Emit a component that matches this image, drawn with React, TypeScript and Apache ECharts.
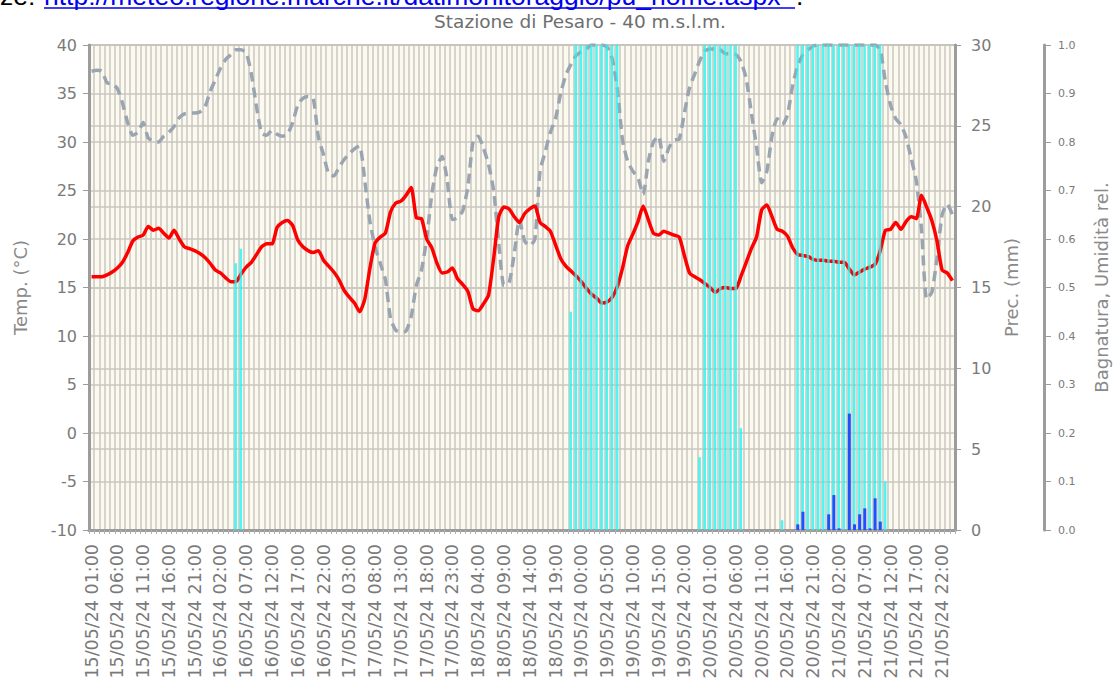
import React, { useEffect, useRef } from "react";
import * as echarts from "echarts";

// Hourly categories 15/05/24 01:00 .. 22/05/24 00:00
const categories: string[] = [];
for (let i = 0; i < 168; i++) {
  const h = i + 1;
  const d = 15 + Math.floor(h / 24);
  const hh = h % 24;
  categories.push(`${d}/05/24 ${String(hh).padStart(2, "0")}:00`);
}

const temperature = [
  16.1, 16.1, 16.1, 16.3, 16.6, 17.0, 17.6, 18.6, 19.8, 20.2,
  20.4, 21.3, 20.9, 21.1, 20.6, 20.1, 20.9, 20.0, 19.2, 19.0,
  18.8, 18.5, 18.1, 17.5, 16.8, 16.5, 16.0, 15.6, 15.6, 16.4,
  17.1, 17.6, 18.4, 19.2, 19.5, 19.5, 21.2, 21.7, 21.9, 21.4,
  19.9, 19.2, 18.8, 18.6, 18.8, 17.8, 17.2, 16.6, 15.8, 14.7,
  14.0, 13.4, 12.5, 13.8, 17.0, 19.6, 20.2, 20.6, 22.8, 23.7,
  23.9, 24.5, 25.3, 22.2, 22.1, 20.0, 19.1, 17.5, 16.5, 16.6,
  17.0, 15.9, 15.3, 14.6, 12.8, 12.6, 13.3, 14.2, 18.0, 22.3,
  23.3, 23.1, 22.3, 21.7, 22.6, 23.1, 23.4, 21.7, 21.3, 20.8,
  19.4, 18.0, 17.2, 16.7, 16.2, 15.6, 14.9, 14.3, 13.9, 13.4,
  13.5, 14.0, 15.1, 17.0, 19.3, 20.5, 21.8, 23.4, 22.0, 20.6,
  20.4, 20.8, 20.6, 20.4, 20.2, 18.3, 16.5, 16.1, 15.8, 15.4,
  15.0, 14.5, 14.9, 15.0, 14.9, 14.9, 16.2, 17.6, 19.0, 20.2,
  23.0, 23.5, 22.3, 21.0, 20.8, 20.3, 19.1, 18.4, 18.3, 18.2,
  17.9, 17.8, 17.8, 17.7, 17.7, 17.6, 17.6, 16.9, 16.3, 16.6,
  16.9, 17.1, 17.4, 18.8, 20.9, 21.0, 21.7, 21.0, 21.8, 22.3,
  22.1, 24.5, 23.3, 21.9, 19.8, 16.8, 16.5, 15.7,
];

const humidity = [
  0.946, 0.948, 0.946, 0.922, 0.92, 0.91, 0.88, 0.84, 0.814, 0.82,
  0.84, 0.808, 0.802, 0.8, 0.812, 0.82, 0.832, 0.85, 0.858, 0.86,
  0.86, 0.862, 0.872, 0.904, 0.928, 0.952, 0.97, 0.98, 0.99, 0.99,
  0.984, 0.94, 0.872, 0.818, 0.814, 0.824, 0.816, 0.812, 0.816, 0.84,
  0.876, 0.89, 0.894, 0.89, 0.81, 0.774, 0.734, 0.73, 0.748, 0.764,
  0.776, 0.786, 0.792, 0.72, 0.636, 0.584, 0.55, 0.516, 0.436, 0.412,
  0.408, 0.41, 0.44, 0.504, 0.536, 0.6, 0.692, 0.75, 0.77, 0.72,
  0.64, 0.644, 0.658, 0.708, 0.8, 0.812, 0.788, 0.754, 0.7, 0.59,
  0.504, 0.51, 0.57, 0.64, 0.596, 0.586, 0.6, 0.74, 0.78, 0.82,
  0.848, 0.9, 0.938, 0.96, 0.978, 0.986, 0.992, 1.0, 1.0, 1.0,
  0.996, 0.972, 0.91, 0.804, 0.76, 0.74, 0.726, 0.692, 0.76, 0.8,
  0.812, 0.76, 0.788, 0.804, 0.806, 0.86, 0.912, 0.94, 0.968, 0.988,
  0.992, 0.992, 0.99, 0.982, 0.982, 0.98, 0.966, 0.93, 0.86, 0.79,
  0.716, 0.74, 0.812, 0.848, 0.836, 0.856, 0.916, 0.958, 0.98, 0.99,
  0.998, 1.0, 1.0, 1.0, 1.0, 1.0, 1.0, 1.0, 1.0, 1.0,
  1.0, 1.0, 1.0, 0.99, 0.924, 0.876, 0.848, 0.836, 0.81, 0.766,
  0.72, 0.62, 0.476, 0.49, 0.56, 0.65, 0.672, 0.65,
];

const wetness: [string, number][] = [
  ["16/05/24 05:00", 0.55], ["16/05/24 06:00", 0.58],
  ["18/05/24 22:00", 0.45], ["18/05/24 23:00", 1],
  ["19/05/24 00:00", 1], ["19/05/24 01:00", 1], ["19/05/24 02:00", 1],
  ["19/05/24 03:00", 1], ["19/05/24 04:00", 1], ["19/05/24 05:00", 1],
  ["19/05/24 06:00", 1], ["19/05/24 07:00", 1],
  ["19/05/24 23:00", 0.15], ["20/05/24 00:00", 1], ["20/05/24 01:00", 1],
  ["20/05/24 02:00", 1], ["20/05/24 03:00", 1], ["20/05/24 04:00", 1],
  ["20/05/24 05:00", 1], ["20/05/24 06:00", 1], ["20/05/24 07:00", 0.21],
  ["20/05/24 15:00", 0.02],
  ["20/05/24 18:00", 1], ["20/05/24 19:00", 1], ["20/05/24 20:00", 1],
  ["20/05/24 21:00", 1], ["20/05/24 22:00", 1], ["20/05/24 23:00", 1],
  ["21/05/24 00:00", 1], ["21/05/24 01:00", 1], ["21/05/24 02:00", 1],
  ["21/05/24 03:00", 1], ["21/05/24 04:00", 1], ["21/05/24 05:00", 1],
  ["21/05/24 06:00", 1], ["21/05/24 07:00", 1], ["21/05/24 08:00", 1],
  ["21/05/24 09:00", 1], ["21/05/24 10:00", 1], ["21/05/24 11:00", 0.1],
];

const precipitation: [string, number][] = [
  ["20/05/24 18:00", 0.35], ["20/05/24 19:00", 1.13],
  ["21/05/24 00:00", 0.97], ["21/05/24 01:00", 2.16], ["21/05/24 02:00", 0.1],
  ["21/05/24 04:00", 7.2], ["21/05/24 05:00", 0.35], ["21/05/24 06:00", 0.97],
  ["21/05/24 07:00", 1.34], ["21/05/24 08:00", 0.1], ["21/05/24 09:00", 1.96],
  ["21/05/24 10:00", 0.52],
];

const TITLE = "Stazione di Pesaro - 40 m.s.l.m.";
const SOURCE_PREFIX = "ze:";
const SOURCE_URL = "http://meteo.regione.marche.it/datimonitoraggio/pu_home.aspx";
const GRID_C = "#cac7c0";
const AXIS_C = "#9c9c9c";
const LABEL_C = "#7a7a7a";

export default function App() {
  const ref = useRef<HTMLDivElement>(null);
  useEffect(() => {
    if (!ref.current) return;
    const chart = echarts.init(ref.current, null, { renderer: "svg" });
    const linkFont = '26.5px "Liberation Sans"';
    const linkY = -4.5;
    chart.setOption({
      animation: false,
      textStyle: { fontFamily: "DejaVu Sans" },
      graphic: [
        {
          type: "text", x: 0, y: linkY,
          style: { text: SOURCE_PREFIX, font: linkFont, lineHeight: 18, fill: "#000", verticalAlign: "middle" },
        },
        {
          type: "text", x: 44, y: linkY,
          style: { text: SOURCE_URL, font: linkFont, lineHeight: 18, fill: "#0000ee", verticalAlign: "middle" },
        },
        {
          type: "text", x: 796, y: linkY,
          style: { text: ".", font: linkFont, lineHeight: 18, fill: "#000", verticalAlign: "middle" },
        },
        { type: "line", shape: { x1: 44, y1: 8, x2: 795, y2: 8 }, style: { stroke: "#0000ee", lineWidth: 1.5 } },
        {
          type: "text", x: 580, y: 21,
          style: { text: TITLE, font: '18.5px "DejaVu Sans"', lineHeight: 18, fill: "#6e6e6e", align: "center", verticalAlign: "middle" },
        },
      ],
      grid: {
        left: 89, right: 160, top: 45, bottom: 156,
        show: true, backgroundColor: "#fcfaef", borderColor: AXIS_C, borderWidth: 2,
      },
      xAxis: {
        type: "category",
        data: categories,
        boundaryGap: true,
        axisLine: { onZero: false, lineStyle: { color: AXIS_C, width: 3 } },
        axisTick: { show: true, interval: 0, length: 4, lineStyle: { color: "#b0b0b0" } },
        axisLabel: { interval: 4, rotate: 90, fontSize: 17.5, color: LABEL_C, margin: 14 },
        splitLine: { show: true, interval: 0, lineStyle: { color: GRID_C, width: 1.5 } },
      },
      yAxis: [
        {
          type: "value", min: -10, max: 40, interval: 5, position: "left",
          name: "Temp. (°C)", nameLocation: "middle", nameRotate: 90, nameGap: 60,
          nameTextStyle: { fontSize: 18, color: "#8a8a8a" },
          axisLine: { show: true, lineStyle: { color: AXIS_C, width: 3 } },
          axisTick: { show: true, length: 6, lineStyle: { color: AXIS_C } },
          axisLabel: { fontSize: 16, color: LABEL_C, margin: 12 },
          splitLine: { show: true, lineStyle: { color: GRID_C, width: 1.5 } },
        },
        {
          type: "value", min: 0, max: 30, interval: 5, position: "right",
          name: "Prec. (mm)", nameLocation: "middle", nameRotate: 90, nameGap: 27,
          nameTextStyle: { fontSize: 18, color: "#8a8a8a" },
          axisLine: { show: true, lineStyle: { color: AXIS_C, width: 3 } },
          axisTick: { show: true, length: 6, lineStyle: { color: AXIS_C } },
          axisLabel: { fontSize: 16, color: LABEL_C, margin: 16 },
          splitLine: { show: true, lineStyle: { color: GRID_C, width: 1.5 } },
        },
        {
          type: "value", min: 0, max: 1, interval: 0.1, position: "right", offset: 89,
          name: "Bagnatura, Umidità rel.", nameLocation: "middle", nameRotate: 90, nameGap: 48,
          nameTextStyle: { fontSize: 18, color: "#8a8a8a" },
          axisLine: { show: true, lineStyle: { color: AXIS_C, width: 3 } },
          axisTick: { show: true, length: 7, lineStyle: { color: AXIS_C } },
          axisLabel: { fontSize: 11, color: LABEL_C, margin: 14, formatter: (v: number) => v.toFixed(1) },
          splitLine: { show: false },
        },
      ],
      series: [
        {
          name: "Umidità rel.", type: "line", yAxisIndex: 2, data: humidity,
          showSymbol: false, smooth: 0.2, z: 2,
          lineStyle: { color: "#9ba5b1", width: 3.5, type: [10, 6] },
        },
        {
          name: "Temp.", type: "line", yAxisIndex: 0, data: temperature,
          showSymbol: false, smooth: 0.2, z: 3,
          lineStyle: { color: "#ff0000", width: 3.5 },
        },
        {
          name: "Bagnatura", type: "bar", yAxisIndex: 2, data: wetness,
          barWidth: 2.5, barGap: "-100%", z: 4,
          itemStyle: { color: "rgba(30,245,245,0.8)" },
        },
        {
          name: "Prec.", type: "bar", yAxisIndex: 1, data: precipitation,
          barWidth: 3, barGap: "-100%", z: 5,
          itemStyle: { color: "#1f4fff" },
        },
      ],
    });
    return () => chart.dispose();
  }, []);
  return (
    <div
      ref={ref}
      style={{ position: "absolute", left: 0, top: 0, width: 1118, height: 686 }}
    />
  );
}
